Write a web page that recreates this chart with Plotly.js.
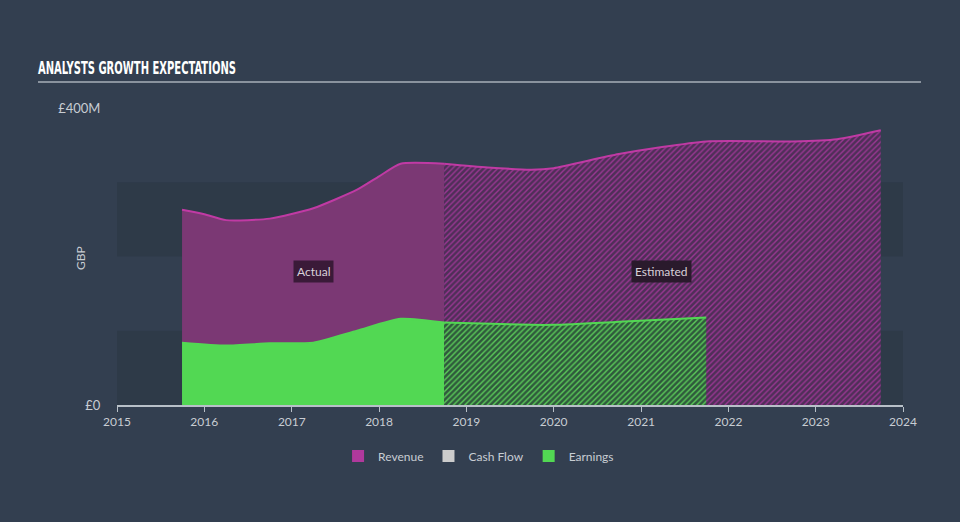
<!DOCTYPE html>
<html>
<head>
<meta charset="utf-8">
<script src="https://cdn.plot.ly/plotly-3.0.1.min.js"></script>
<style>
html,body{margin:0;padding:0;background:#333f50;}
#chart{width:960px;height:522px;}
</style>
</head>
<body>
<div id="chart"></div>
<script>
// Revenue (GBP millions)
const revActualDates = ['2015-09-30','2016-01-01','2016-04-01','2016-10-01','2017-04-01','2017-10-01','2018-01-01','2018-04-01','2018-09-30'];
const revActualValues = [263, 257, 249, 251, 265, 290, 308, 325, 325];
const revEstDates = ['2018-09-30','2019-03-31','2019-09-30','2020-01-01','2020-09-30','2021-09-30','2022-09-30','2023-03-31','2023-09-30'];
const revEstValues = [325, 320, 317, 319, 338, 355, 355, 358, 370];

// Earnings (GBP millions)
const earnActualDates = ['2015-09-30','2016-04-01','2016-10-01','2017-04-01','2017-10-01','2018-04-01','2018-09-30'];
const earnActualValues = [84, 80, 83, 84, 100, 116, 111];
const earnEstDates = ['2018-09-30','2019-09-30','2020-01-01','2020-09-30','2021-09-30'];
const earnEstValues = [111, 108, 108, 112, 118];

const yTickVals = [0, 400];
const yTickText = ['£0', '£400M'];
const bandRanges = [[0, 100], [200, 300]];
const legendNames = ['Revenue', 'Cash Flow', 'Earnings'];
const legendColors = ['#b0399c', '#cccccc', '#52d853'];

const revLine = '#c03aa4';
const revFill = '#7b3874';
const earnLine = '#52d853';
const earnFill = '#52d853';

const traces = [
  {x: revActualDates, y: revActualValues, type: 'scatter', mode: 'lines', fill: 'tozeroy',
   line: {color: revLine, width: 2, shape: 'spline', smoothing: 0.6}, fillcolor: revFill, showlegend: false, hoverinfo: 'skip'},
  {x: revEstDates, y: revEstValues, type: 'scatter', mode: 'lines', fill: 'tozeroy',
   line: {color: revLine, width: 2, shape: 'spline', smoothing: 0.6},
   fillpattern: {shape: '/', fgcolor: '#9a3793', bgcolor: '#4f2f58', size: 4, solidity: 0.35},
   showlegend: false, hoverinfo: 'skip'},
  {x: earnActualDates, y: earnActualValues, type: 'scatter', mode: 'lines', fill: 'tozeroy',
   line: {color: earnLine, width: 2, shape: 'spline', smoothing: 0.6}, fillcolor: earnFill, showlegend: false, hoverinfo: 'skip'},
  {x: earnEstDates, y: earnEstValues, type: 'scatter', mode: 'lines', fill: 'tozeroy',
   line: {color: earnLine, width: 2, shape: 'spline', smoothing: 0.6},
   fillpattern: {shape: '/', fgcolor: '#5ccc5a', bgcolor: '#2f5a3c', size: 4, solidity: 0.35},
   showlegend: false, hoverinfo: 'skip'}
];

legendNames.forEach((n, i) => {
  traces.push({x: [null], y: [null], type: 'bar', name: n, marker: {color: legendColors[i]}, showlegend: true, hoverinfo: 'skip'});
});

const shapes = bandRanges.map(r => ({
  type: 'rect', xref: 'paper', yref: 'y', x0: 0, x1: 1, y0: r[0], y1: r[1],
  fillcolor: '#2e3a48', line: {width: 0}, layer: 'below'
}));
shapes.push({type: 'line', xref: 'paper', yref: 'paper', x0: -0.1005, x1: 1.0229, y0: 1.0878, y1: 1.0878,
  line: {color: '#a9b0b8', width: 1.5}});

const layout = {
  width: 960, height: 522,
  paper_bgcolor: '#333f50', plot_bgcolor: '#333f50',
  margin: {l: 117, r: 57, t: 108, b: 117},
  font: {family: 'Lato, "Open Sans", sans-serif', color: '#c8cdd3', size: 12},
  title: {text: '<b>ANALYSTS GROWTH EXPECTATIONS</b>', x: 38/960, xanchor: 'left', y: 1 - 68/522, yanchor: 'middle',
    font: {family: '"DejaVu Sans Condensed", "Liberation Sans Narrow", sans-serif', size: 17, color: '#ffffff'}},
  xaxis: {type: 'date', range: ['2015-01-01', '2024-01-01'], showgrid: false, zeroline: false,
    showline: true, linecolor: '#b8c0c8', linewidth: 1.5, ticks: 'outside', ticklen: 5, tickcolor: '#b8c0c8',
    dtick: 'M12', tickformat: '%Y', tickfont: {size: 12, color: '#c8cdd3'}, fixedrange: true},
  yaxis: {range: [0, 400], tickvals: yTickVals, ticktext: yTickText, showgrid: false, zeroline: false,
    showline: false, ticks: 'outside', ticklen: 13, tickcolor: 'rgba(0,0,0,0)', tickfont: {size: 13, color: '#c8cdd3'},
    fixedrange: true},
  shapes: shapes,
  barmode: 'overlay',
  showlegend: true,
  legend: {orientation: 'h', x: 0.46, xanchor: 'center', y: -0.172, yanchor: 'middle',
    font: {size: 12, color: '#c8cdd3'}, bgcolor: 'rgba(0,0,0,0)', itemclick: false},
  annotations: [
    {text: 'GBP', xref: 'paper', yref: 'paper', x: (80 - 117) / 786, y: (405 - 258) / 297, textangle: -90,
      xanchor: 'center', yanchor: 'middle', showarrow: false, font: {size: 12, color: '#c8cdd3'}},
    {text: 'Actual', x: '2017-04-01', y: 180, xref: 'x', yref: 'y', showarrow: false,
      bgcolor: '#3a1a38', font: {size: 12, color: '#d8d0d8'}, borderpad: 3},
    {text: 'Estimated', x: '2021-03-28', y: 180, xref: 'x', yref: 'y', showarrow: false,
      bgcolor: '#2a1a2c', font: {size: 12, color: '#d8d0d8'}, borderpad: 3}
  ]
};

Plotly.newPlot('chart', traces, layout, {displayModeBar: false, staticPlot: true}).then(() => {
  const t = document.querySelector('#chart .gtitle');
  if (t) {
    const bb = t.getBBox();
    const targetW = 198;
    const sx = targetW / bb.width;
    const x0 = bb.x;
    t.setAttribute('transform', `translate(${x0},0) scale(${sx},1) translate(${-x0},0)`);
  }
});
</script>
</body>
</html>
